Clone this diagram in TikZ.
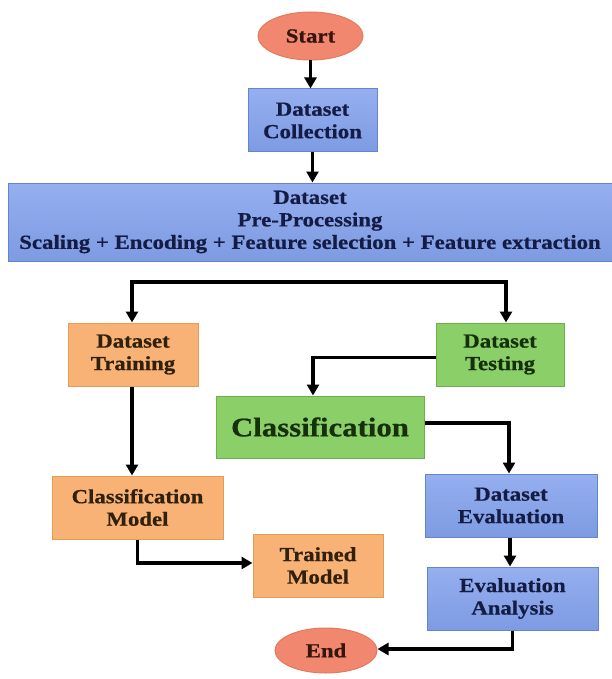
\documentclass[tikz,border=0pt]{standalone}
\usepackage{fontspec}
\setmainfont[FakeStretch=1.14, BoldFeatures={FakeBold=0.6}]{Liberation Serif}
\usetikzlibrary{arrows.meta,shapes.geometric}

% palette
\definecolor{blueTop}{HTML}{95AFEF}
\definecolor{blueBot}{HTML}{7E9BE2}
\definecolor{blueEdge}{HTML}{6384D2}
\definecolor{blueText}{HTML}{141C45}
\definecolor{orangeFill}{HTML}{F8B276}
\definecolor{orangeEdge}{HTML}{E49C55}
\definecolor{orangeText}{HTML}{30200C}
\definecolor{greenFill}{HTML}{8BCF68}
\definecolor{greenEdge}{HTML}{6DAF4C}
\definecolor{greenText}{HTML}{16300C}
\definecolor{salmonFill}{HTML}{F2876F}
\definecolor{salmonEdge}{HTML}{E27A5E}
\definecolor{salmonText}{HTML}{34160C}

\tikzset{
  box/.style={rectangle, draw, line width=1pt, inner sep=0pt, align=center,
    font=\bfseries\fontsize{20}{22.5}\selectfont},
  bluebox/.style={box, draw=blueEdge, top color=blueTop, bottom color=blueBot, text=blueText},
  orangebox/.style={box, draw=orangeEdge, fill=orangeFill, text=orangeText},
  greenbox/.style={box, draw=greenEdge, fill=greenFill, text=greenText},
  terminal/.style={ellipse, draw=salmonEdge, fill=salmonFill, line width=1pt, inner sep=0pt,
    text=salmonText, font=\bfseries\fontsize{20}{22.5}\selectfont},
  arr/.style={draw=black, line width=3.2pt,
    -{Triangle[length=11pt,width=12pt]}},
}

\begin{document}
\begin{tikzpicture}[x=1pt, y=-1pt]
  \fill[white] (0,0) rectangle (612,679);
  \useasboundingbox (0,0) rectangle (612,679);

  % nodes
  \node[terminal, minimum width=105pt, minimum height=48pt] (start) at (310.5,36) {Start};
  \node[bluebox, minimum width=129pt, minimum height=63pt] (collect) at (312.5,120.5) {Dataset\\Collection};
  \node[bluebox, minimum width=604pt, minimum height=78pt] (prep) at (310,222)
    {Dataset\\Pre-Processing\\Scaling + Encoding + Feature selection + Feature extraction};
  \node[orangebox, minimum width=130pt, minimum height=63pt] (train) at (133,354.5) {Dataset\\Training};
  \node[greenbox, minimum width=128pt, minimum height=63pt] (test) at (500,354.5) {Dataset\\Testing};
  \node[greenbox, minimum width=208pt, minimum height=62pt,
    font=\bfseries\fontsize{27}{30}\selectfont] (cls) at (320,427) {Classification};
  \node[orangebox, minimum width=171pt, minimum height=63pt] (cmodel) at (137.5,507.5) {Classification\\Model};
  \node[orangebox, minimum width=130pt, minimum height=63pt] (tmodel) at (318,565.5) {Trained\\Model};
  \node[bluebox, minimum width=172pt, minimum height=63pt] (deval) at (511,505.5) {Dataset\\Evaluation};
  \node[bluebox, minimum width=171pt, minimum height=63pt] (eanal) at (512.5,598.5) {Evaluation\\Analysis};
  \node[terminal, minimum width=102pt, minimum height=45pt] (endn) at (326,650.5) {End};

  % split point below pre-processing
  \coordinate (split) at (319,282);

  % connectors
  \draw[arr] (start.south) -- (start.south |- collect.north);
  \draw[arr] (collect.south) -- (collect.south |- prep.north);
  \draw[arr] (split) -| ([xshift=-1pt]train.north);
  \draw[arr] (split) -| ([xshift=6pt]test.north);
  \draw[arr] ([yshift=-3pt]test.west) -| ([xshift=-7pt]cls.north);
  \draw[arr] ([yshift=4pt]cls.east) -| ([xshift=-2pt]deval.north);
  \draw[arr] ([xshift=-1pt]train.south) -- ([xshift=-1pt]train.south |- cmodel.north);
  \draw[arr] (cmodel.south) |- ([yshift=2.5pt]tmodel.west);
  \draw[arr] ([xshift=-1pt]deval.south) -- ([xshift=-1pt]deval.south |- eanal.north);
  \draw[arr] (eanal.south) |- ([yshift=1.5pt]endn.east);
\end{tikzpicture}
\end{document}
